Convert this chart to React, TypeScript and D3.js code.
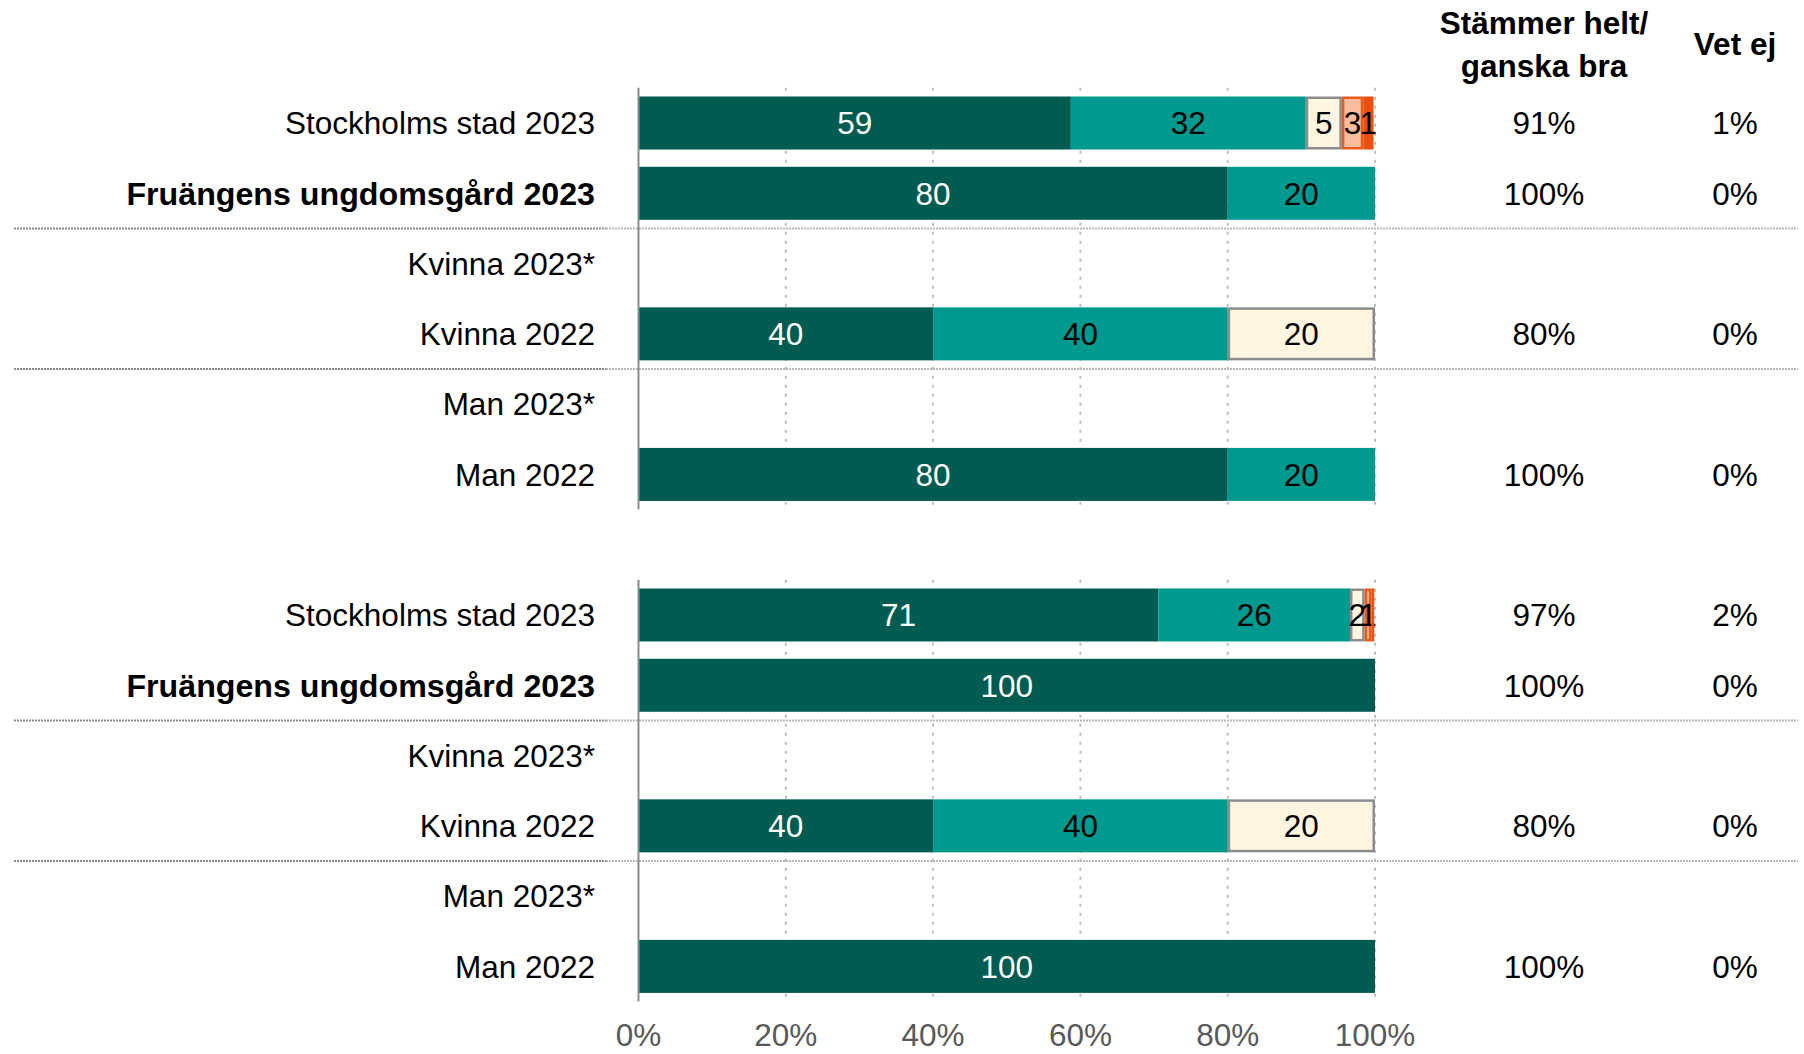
import React from "react";
import * as d3 from "d3";

const rowLabels = [
  "Stockholms stad 2023",
  "Fruängens ungdomsgård 2023",
  "Kvinna 2023*",
  "Kvinna 2022",
  "Man 2023*",
  "Man 2022",
  "",
  "Stockholms stad 2023",
  "Fruängens ungdomsgård 2023",
  "Kvinna 2023*",
  "Kvinna 2022",
  "Man 2023*",
  "Man 2022",
];
const boldRows = [1, 8];
// segments: Stämmer helt, Stämmer ganska bra, Stämmer ganska dåligt, Stämmer ganska dåligt/dåligt, Stämmer inte alls
const helt = [58.7, 80, 0, 40, 0, 80, 0, 70.6, 100, 0, 40, 0, 100];
const ganska = [31.9, 20, 0, 40, 0, 20, 0, 26.0, 0, 0, 40, 0, 0];
const mitten = [4.9, 0, 0, 20, 0, 0, 0, 2.0, 0, 0, 20, 0, 0];
const daligt = [2.9, 0, 0, 0, 0, 0, 0, 0.9, 0, 0, 0, 0, 0];
const inteAlls = [1.4, 0, 0, 0, 0, 0, 0, 0.4, 0, 0, 0, 0, 0];
const summary = ["91%", "100%", "", "80%", "", "100%", "", "97%", "100%", "", "80%", "", "100%"];
const vetEj = ["1%", "0%", "", "0%", "", "0%", "", "2%", "0%", "", "0%", "", "0%"];
const ticks = [0, 20, 40, 60, 80, 100];
const separatorsAfter = [1, 3, 8, 10];
const groups = [
  [0, 5],
  [7, 12],
];

const series = [
  { key: "helt", values: helt, fill: "#005B50", stroke: "none", text: "#ffffff" },
  { key: "ganska", values: ganska, fill: "#009990", stroke: "none", text: "#000000" },
  { key: "mitten", values: mitten, fill: "#FFF5E0", stroke: "#8C8C8C", text: "#000000" },
  { key: "daligt", values: daligt, fill: "#F8BD9E", stroke: "#EA5A1C", text: "#000000" },
  { key: "inte", values: inteAlls, fill: "#EA500F", stroke: "none", text: "#000000" },
];

const FONT = "'Liberation Sans', Arial, sans-serif";
const FS = 31.5;

export default function App() {
  const x = d3.scaleLinear().domain([0, 100]).range([638.5, 1375]);
  const n = rowLabels.length;
  const p = 0.246;
  const y = d3
    .scaleBand<number>()
    .domain(d3.range(n))
    .range([87.86, 1001.54])
    .paddingInner(p)
    .paddingOuter(p / 2);
  const step = y.step();
  const bw = y.bandwidth();
  const top0 = 87.86;

  const stackData = rowLabels.map((_, i) => {
    const o: any = { i };
    series.forEach((s) => (o[s.key] = s.values[i]));
    return o;
  });
  const stacked = d3.stack<any>().keys(series.map((s) => s.key))(stackData);

  const cy = (i: number) => (y(i) as number) + bw / 2;
  const colSum = 1544;
  const colVet = 1735;

  return (
    <svg
      width={1804}
      height={1054}
      style={{ position: "absolute", left: 0, top: 0, background: "#fff" }}
      fontFamily={FONT}
    >
      <rect width={1804} height={1054} fill="#fff" />
      {/* gridlines */}
      {groups.map(([a, b], gi) => {
        const yTop = top0 + a * step;
        const yBot = top0 + (b + 1) * step;
        return (
          <g key={"g" + gi}>
            {ticks.slice(1).map((t) => (
              <line
                key={t}
                x1={x(t)}
                x2={x(t)}
                y1={yTop}
                y2={yBot}
                stroke="#BFBFBF"
                strokeWidth={2}
                strokeDasharray="3,6"
              />
            ))}
          </g>
        );
      })}
      {/* separators */}
      {separatorsAfter.map((r) => {
        const yy = top0 + (r + 1) * step;
        return (
          <g key={"s" + r}>
            <line x1={14} x2={606} y1={yy} y2={yy} stroke="#8A8A8A" strokeWidth={2} strokeDasharray="2,1" />
            <line x1={606} x2={1798} y1={yy} y2={yy} stroke="#B8B8B8" strokeWidth={2} strokeDasharray="2,1" />
          </g>
        );
      })}
      {/* bars */}
      {stacked.map((layer, li) => {
        const s = series[li];
        return (
          <g key={s.key}>
            {layer.map((d, i) => {
              const v = s.values[i];
              if (!v) return null;
              const x0 = x(d[0]);
              const x1 = x(d[1]);
              const sw = s.stroke === "none" ? 0 : 2.5;
              const label = Math.round(v);
              return (
                <g key={i}>
                  <rect
                    x={x0 + sw / 2}
                    y={(y(i) as number) + sw / 2}
                    width={Math.max(0, x1 - x0 - sw)}
                    height={bw - sw}
                    fill={s.fill}
                    stroke={s.stroke}
                    strokeWidth={sw}
                  />
                  {label >= 1 && (
                    <text
                      x={(x0 + x1) / 2}
                      y={cy(i)}
                      dy="0.36em"
                      textAnchor="middle"
                      fontSize={FS}
                      fill={s.text}
                    >
                      {label}
                    </text>
                  )}
                </g>
              );
            })}
          </g>
        );
      })}
      {/* axis lines */}
      {groups.map(([a, b], gi) => (
        <line
          key={"a" + gi}
          x1={x(0)}
          x2={x(0)}
          y1={top0 + a * step}
          y2={top0 + (b + 1) * step}
          stroke="#8C8C8C"
          strokeWidth={2}
        />
      ))}
      {/* row labels */}
      {rowLabels.map((l, i) =>
        l ? (
          <text
            key={"r" + i}
            x={595}
            y={cy(i)}
            dy="0.36em"
            textAnchor="end"
            fontSize={boldRows.includes(i) ? 32.2 : FS}
            fontWeight={boldRows.includes(i) ? "bold" : "normal"}
            fill="#000"
          >
            {l}
          </text>
        ) : null
      )}
      {/* summary columns */}
      {summary.map((s, i) =>
        s ? (
          <text key={"sm" + i} x={colSum} y={cy(i)} dy="0.36em" textAnchor="middle" fontSize={FS} fill="#000">
            {s}
          </text>
        ) : null
      )}
      {vetEj.map((s, i) =>
        s ? (
          <text key={"v" + i} x={colVet} y={cy(i)} dy="0.36em" textAnchor="middle" fontSize={FS} fill="#000">
            {s}
          </text>
        ) : null
      )}
      {/* headers */}
      <text x={colSum} y={23} dy="0.36em" textAnchor="middle" fontSize={FS} fontWeight="bold">
        Stämmer helt/
      </text>
      <text x={colSum} y={65.6} dy="0.36em" textAnchor="middle" fontSize={FS} fontWeight="bold">
        ganska bra
      </text>
      <text x={colVet} y={43.7} dy="0.36em" textAnchor="middle" fontSize={FS} fontWeight="bold">
        Vet ej
      </text>
      {/* tick labels */}
      {ticks.map((t) => (
        <text key={"t" + t} x={x(t)} y={1035} dy="0.36em" textAnchor="middle" fontSize={FS} fill="#595959">
          {t + "%"}
        </text>
      ))}
    </svg>
  );
}
